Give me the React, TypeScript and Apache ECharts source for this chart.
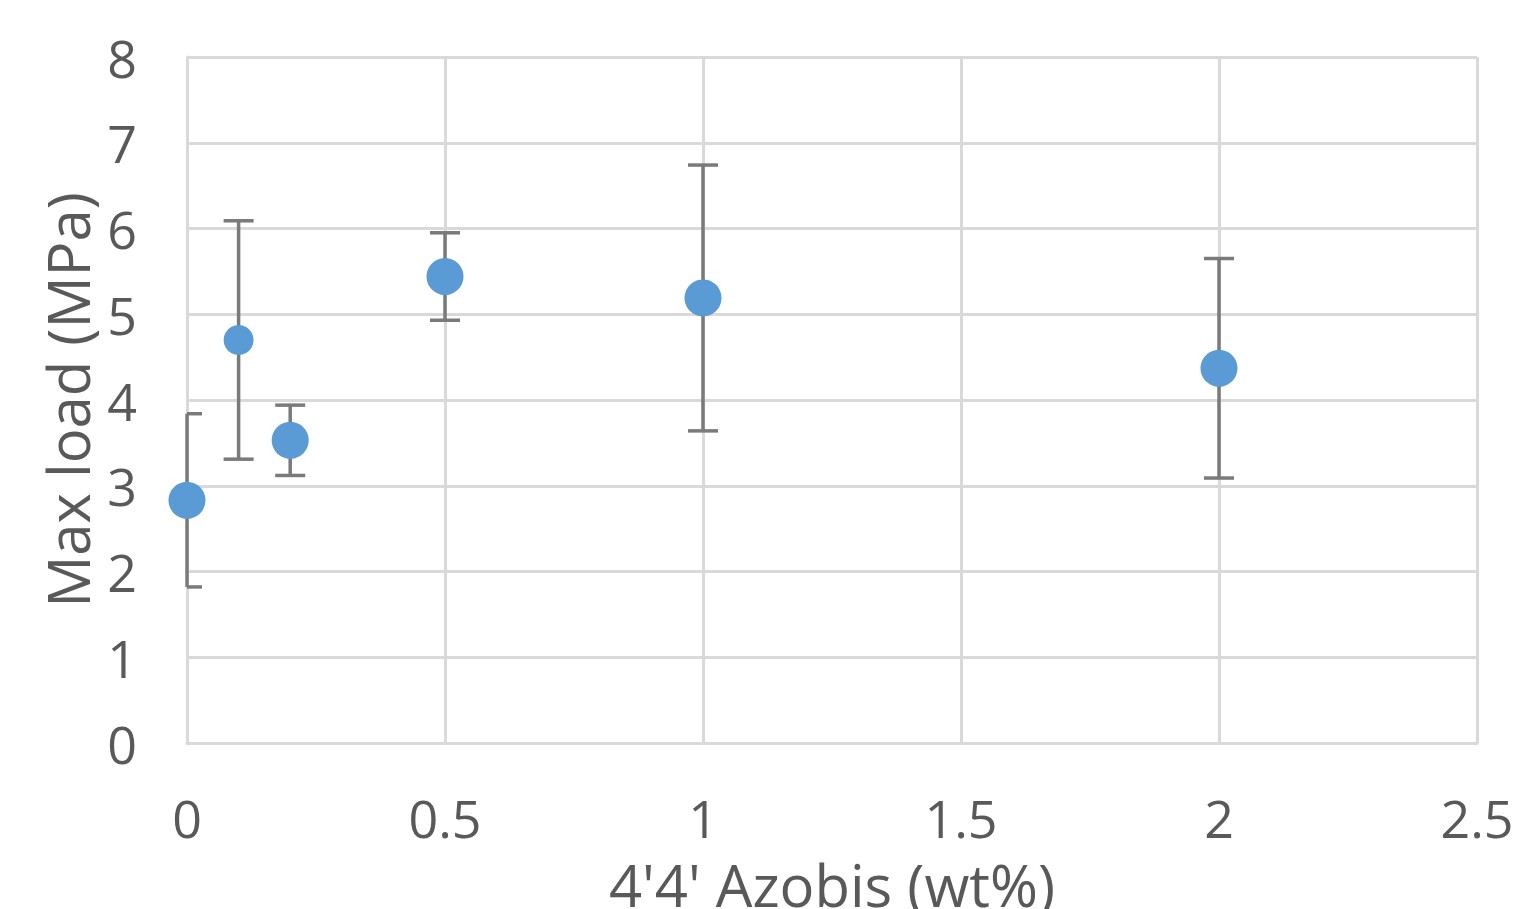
import React, { useEffect, useRef } from "react";
import * as echarts from "echarts";

const xValues = [0, 0.1, 0.2, 0.5, 1, 2];
const meanLoad = [2.83, 4.7, 3.53, 5.44, 5.19, 4.37];
const errLoad = [1.01, 1.39, 0.41, 0.51, 1.55, 1.28];
const xAxisTitle = "4'4' Azobis (wt%)";
const yAxisTitle = "Max load (MPa)";

export default function App() {
  const ref = useRef<HTMLDivElement>(null);
  useEffect(() => {
    if (!ref.current) return;
    const chart = echarts.init(ref.current, null, { renderer: "svg" });
    const font = "'Open Sans', sans-serif";
    const scatterData = xValues.map((x, i) => [x, meanLoad[i]]);
    const errData = xValues.map((x, i) => [x, meanLoad[i] - errLoad[i], meanLoad[i] + errLoad[i]]);
    chart.setOption({
      animation: false,
      backgroundColor: "#ffffff",
      grid: {
        left: 187,
        right: 38,
        top: 57,
        bottom: 166,
        containLabel: false,
        outerBoundsMode: "none",
      },
      xAxis: {
        type: "value",
        min: 0,
        max: 2.5,
        interval: 0.5,
        name: xAxisTitle,
        nameLocation: "middle",
        nameGap: 112,
        nameTextStyle: { fontFamily: font, fontSize: 58, lineHeight: 58, color: "#595959" },
        axisLine: { show: true, lineStyle: { color: "#d9d9d9", width: 3 } },
        axisTick: { show: false },
        axisLabel: { fontFamily: font, fontSize: 52, lineHeight: 52, color: "#595959", margin: 48 },
        splitLine: { show: true, lineStyle: { color: "#d9d9d9", width: 3 } },
      },
      yAxis: {
        type: "value",
        min: 0,
        max: 8,
        interval: 1,
        name: yAxisTitle,
        nameLocation: "middle",
        nameGap: 84,
        nameTextStyle: { fontFamily: font, fontSize: 58, lineHeight: 58, color: "#595959" },
        axisLine: { show: true, lineStyle: { color: "#d9d9d9", width: 3 } },
        axisTick: { show: false },
        axisLabel: { fontFamily: font, fontSize: 52, lineHeight: 52, color: "#595959", margin: 50 },
        splitLine: { show: true, lineStyle: { color: "#d9d9d9", width: 3 } },
      },
      series: [
        {
          type: "custom",
          data: errData,
          clip: false,
          z: 2,
          renderItem: (params: any, api: any) => {
            const x = api.value(0);
            const lo = api.coord([x, api.value(1)]);
            const hi = api.coord([x, api.value(2)]);
            const left = params.coordSys.x;
            const half = 15;
            const xl = Math.max(lo[0] - half, left);
            const xr = lo[0] + half;
            const style = { stroke: "#7a7a7a", lineWidth: 3.5 };
            return {
              type: "group",
              children: [
                { type: "line", shape: { x1: lo[0], y1: lo[1], x2: hi[0], y2: hi[1] }, style },
                { type: "line", shape: { x1: xl, y1: hi[1], x2: xr, y2: hi[1] }, style },
                { type: "line", shape: { x1: xl, y1: lo[1], x2: xr, y2: lo[1] }, style },
              ],
            };
          },
        },
        {
          type: "scatter",
          data: scatterData,
          z: 3,
          symbol: "circle",
          symbolSize: (_v: any, p: any) => (p.dataIndex === 1 ? 30 : 37),
          itemStyle: { color: "#5b9bd5", opacity: 1 },
        },
      ],
    });
    return () => chart.dispose();
  }, []);
  return (
    <div
      ref={ref}
      style={{ position: "fixed", left: 0, top: 0, width: 1515, height: 909, background: "#fff" }}
    />
  );
}
